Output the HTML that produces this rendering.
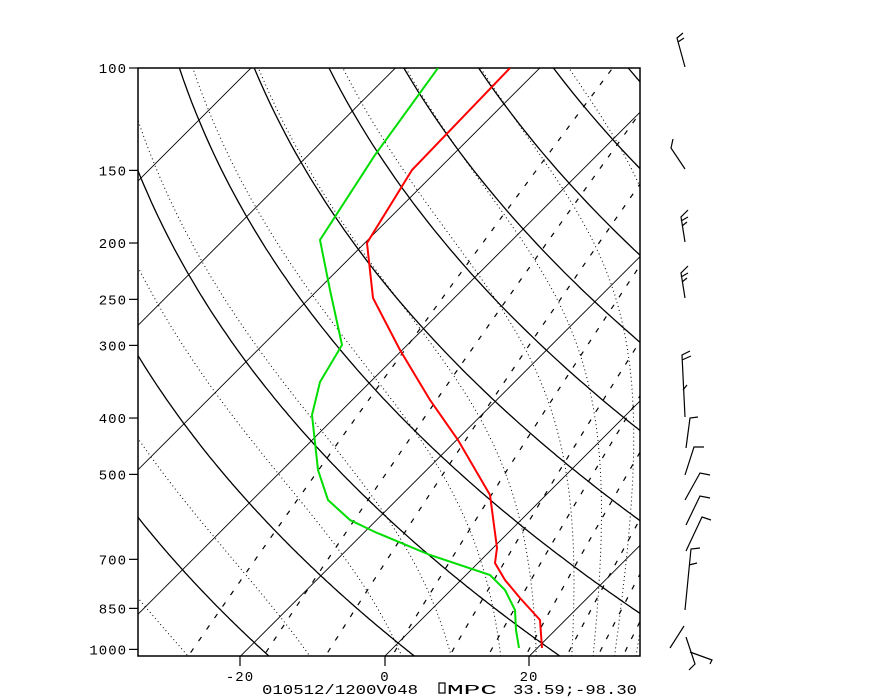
<!DOCTYPE html>
<html><head><meta charset="utf-8"><style>
html,body{margin:0;padding:0;background:#fff;width:896px;height:697px;overflow:hidden}
svg{display:block}
text{font-family:"Liberation Mono",monospace;font-size:14px;fill:#000}
</style></head><body>
<svg id="s" width="896" height="697" xmlns="http://www.w3.org/2000/svg">
<defs><clipPath id="c"><rect x="138" y="68" width="502" height="588"/></clipPath></defs>
<g id="bg" clip-path="url(#c)"></g>
<rect x="138" y="68" width="502" height="588" fill="none" stroke="#000" stroke-width="1.5"/>
<g clip-path="url(#c)" fill="none" stroke-width="2">
<polyline stroke="#f00" points="510,68 412,170 367,243 373,298 400,350 430,400 458,440 490,495 497,548 495,563 505,580 520,598 540,620 542,648"/>
<polyline stroke="#0d0" points="438,68 375,155 320,240 330,290 342,345 320,382 312,415 318,470 328,500 350,520 375,532 430,555 490,575 505,590 515,610 516,630 519,648"/>
</g>
<g stroke="#000" stroke-width="1.2" fill="none">
<path d="M685,67 L677,38 L683,33 M678,42 L684,38"/>
<path d="M685,169 L671,148 L673,139"/>
<path d="M685,242 L681,217 L688,210 M681,221 L688,217 M682,226 L687,222"/>
<path d="M685,298 L681,273 L688,266 M681,277 L688,273 M682,282 L687,278"/>
<path d="M685,417 L682,355 L690,351 M682,360 L691,356 M683,390 L687,385"/>
<path d="M686,448 L690,418 L698,417"/>
<path d="M685,475 L694,447 L704,447"/>
<path d="M685,500 L700,473 L710,475"/>
<path d="M686,525 L700,496 L710,498"/>
<path d="M686,551 L702,517 L711,520"/>
<path d="M685,610 L691,549 L700,548 M689,565 L697,563"/>
<path d="M670,648 L684,626 M686,637 L695,664 L689,670 M690,652 L712,660 L710,664"/>
</g>
<g id="ax" stroke="#000" stroke-width="1.2"></g>
<text x="262" y="694" textLength="156" lengthAdjust="spacingAndGlyphs">010512/1200V048</text>
<rect x="439" y="683" width="6" height="10" fill="none" stroke="#000" stroke-width="1.2"/>
<text x="447" y="694" textLength="50" lengthAdjust="spacingAndGlyphs">MPC</text>
<text x="513" y="694" textLength="124" lengthAdjust="spacingAndGlyphs">33.59;-98.30</text>
</svg>
<script>
(function(){
var NS="http://www.w3.org/2000/svg",bg=document.getElementById('bg'),ax=document.getElementById('ax'),s=document.getElementById('s');
function Y(p){return 68+252.5*Math.log(p/100);}
function X(T,p){return 385+7.22*T+(656-Y(p));}
function line(pts,st,dash,w){var e=document.createElementNS(NS,'polyline');e.setAttribute('points',pts.map(function(a){return a[0].toFixed(1)+','+a[1].toFixed(1)}).join(' '));e.setAttribute('fill','none');e.setAttribute('stroke','#000');e.setAttribute('stroke-width',w||1);if(dash)e.setAttribute('stroke-dasharray',dash);bg.appendChild(e);}
var ps=[];for(var p=1060;p>=95;p-=5)ps.push(p);
for(var T=-140;T<=60;T+=20){line([[X(T,1060),Y(1060)],[X(T,95),Y(95)]],null,null,0.9);}
for(var th=-80;th<=200;th+=20){var pts=ps.map(function(p){var t=(th+275.15)*Math.pow(p/1000,0.2857)-273.15;return [X(t,p),Y(p)];});line(pts,null,null,1.3);}
function es(t){return 6.112*Math.exp(17.67*t/(t+243.5));}
[0.4,1,2,4,7,10,14,20,26,32].forEach(function(w){var pts=ps.map(function(p){var e=w*p/(622+w);var l=Math.log(e/6.112);var t=243.5*l/(17.67-l);return [X(t,p),Y(p)];});line(pts,null,"5,9",1.2);});
function rs(t,p){var e=es(t);return 0.622*e/(p-e);}
function dTdp(t,p){var T=t+273.15,r=rs(t,p),L=2.5e6,Rd=287,cp=1004;return (Rd*T+L*r)/p/(cp+L*L*r*0.622/(Rd*T*T));}
[-29,-12,1,8,15,20,25,28,31,34].forEach(function(tw){var t=tw,p;var up=[];for(p=1000;p>=95;p-=2){up.push([X(t,p),Y(p)]);t-=dTdp(t,p)*2;}t=tw;var dn=[];for(p=1000;p<=1060;p+=2){dn.unshift([X(t,p),Y(p)]);t+=dTdp(t,p)*2;}line(dn.concat(up),null,"1,3",1);});
[100,150,200,250,300,400,500,700,850,1000].forEach(function(p){var y=Y(p);var l=document.createElementNS(NS,'line');l.setAttribute('x1',129);l.setAttribute('x2',138);l.setAttribute('y1',y);l.setAttribute('y2',y);ax.appendChild(l);var tx=document.createElementNS(NS,'text');tx.setAttribute('x',127);tx.setAttribute('y',y+5);tx.setAttribute('text-anchor','end');tx.setAttribute('style','letter-spacing:1px');tx.textContent=p;s.appendChild(tx);});
[[-20,240],[0,385],[20,529]].forEach(function(a){var l=document.createElementNS(NS,'line');l.setAttribute('x1',a[1]);l.setAttribute('x2',a[1]);l.setAttribute('y1',656);l.setAttribute('y2',666);ax.appendChild(l);var tx=document.createElementNS(NS,'text');tx.setAttribute('x',a[1]);tx.setAttribute('y',681);tx.setAttribute('text-anchor','middle');tx.setAttribute('style','letter-spacing:1px');tx.textContent=a[0];s.appendChild(tx);});
})();
</script>
</body></html>
